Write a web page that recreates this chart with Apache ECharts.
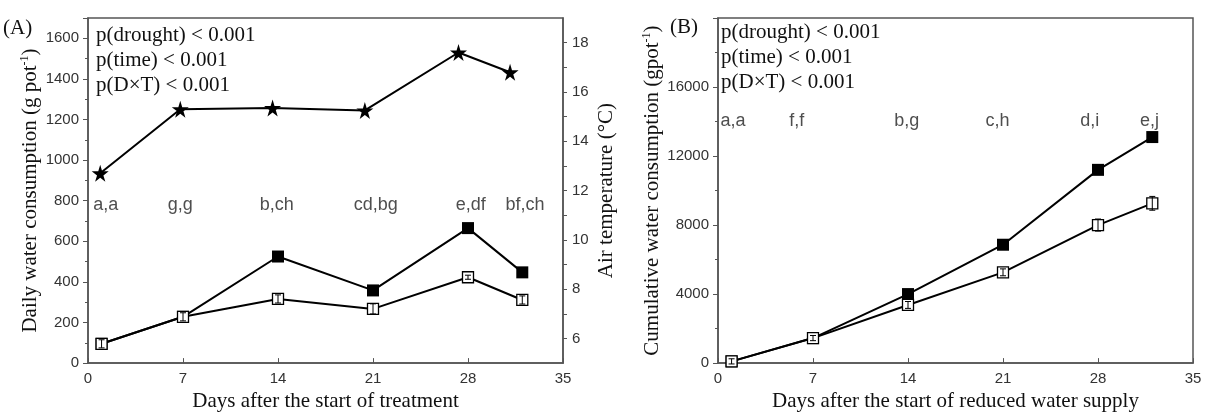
<!DOCTYPE html>
<html><head><meta charset="utf-8">
<script src="https://cdn.jsdelivr.net/npm/echarts@6/dist/echarts.min.js"></script>
<style>html,body{margin:0;padding:0;background:#fff}#c{width:1210px;height:417px}</style>
</head><body><div id="c"></div>
<script>
// ---- data ----
const daysA = [1, 7, 14, 21, 28, 32];
const dailyWet = [95, 228, 525, 358, 665, 447];          // filled squares
const dailyDry = [95, 228, 316, 267, 423, 311];          // open squares
const dailyDryErr = [20, 20, 20, 25, 10, 20];
const tempDays = [0.9, 6.8, 13.6, 20.4, 27.3, 31.1];
const airTemp = [12.7, 15.3, 15.35, 15.25, 17.6, 16.8];   // stars, right axis
const lettersA = ['a,a', 'g,g', 'b,ch', 'cd,bg', 'e,df', 'bf,ch'];
const lettersAX = [1.3, 6.8, 13.9, 21.2, 28.2, 32.2];
const lettersAY = 780;

const daysB = [1, 7, 14, 21, 28, 32];
const cumWet = [100, 1450, 4000, 6860, 11200, 13100];
const cumDry = [100, 1450, 3370, 5260, 8000, 9260];
const cumDryErr = [150, 150, 200, 200, 350, 400];
const lettersB = ['a,a', 'f,f', 'b,g', 'c,h', 'd,i', 'e,j'];
const lettersBX = [1.1, 5.8, 13.9, 20.6, 27.4, 31.8];
const lettersBY = 14000;

const pTexts = ['p(drought) < 0.001', 'p(time) < 0.001', 'p(D\u00d7T) < 0.001'];

// ---- styling ----
const SERIF = '"Liberation Serif", "DejaVu Serif", serif';
const SANS = '"Liberation Sans", Arial, sans-serif';
const AX = '#555';
const STAR = 'path://M50,0 L61,35 L98,35 L68,57 L79,91 L50,70 L21,91 L32,57 L2,35 L39,35 Z';

const nameStyle = {
  fontFamily: SERIF, fontSize: 21, color: '#111',
  rich: {
    n: {fontFamily: SERIF, fontSize: 21, color: '#111'},
    s: {fontFamily: SERIF, fontSize: 12, color: '#111', verticalAlign: 'top', padding: [0, 0, 10, 0]}
  }
};
const plain = v => String(v);

function xAx(gi, name) {
  return {
    type: 'value', gridIndex: gi, min: 0, max: 35, interval: 7,
    name: name, nameLocation: 'middle', nameGap: 26,
    nameTextStyle: {fontFamily: SERIF, fontSize: 21, color: '#111'},
    axisLine: {onZero: false, lineStyle: {color: AX, width: 1.5}},
    axisTick: {inside: true, length: 5, lineStyle: {color: AX, width: 1}},
    axisLabel: {fontFamily: SANS, fontSize: 15, color: '#333', margin: 8, formatter: plain},
    splitLine: {show: false}
  };
}
function yAx(gi, opts) {
  return Object.assign({
    type: 'value', gridIndex: gi, nameLocation: 'middle',
    nameTextStyle: nameStyle,
    axisLine: {show: true, onZero: false, lineStyle: {color: AX, width: 1.5}},
    axisTick: {show: true, length: 5, lineStyle: {color: AX, width: 1}},
    minorTick: {show: true, splitNumber: 2, length: 3, lineStyle: {color: AX, width: 1}},
    axisLabel: {fontFamily: SANS, fontSize: 15, color: '#333', margin: 9, showMaxLabel: false, formatter: plain},
    splitLine: {show: false}, minorSplitLine: {show: false}
  }, opts);
}

function errRender(params, api) {
  const x = api.value(0), lo = api.value(1), hi = api.value(2);
  const p1 = api.coord([x, lo]), p2 = api.coord([x, hi]);
  const w = 3, st = {stroke: '#000', lineWidth: 1};
  return {type: 'group', children: [
    {type: 'line', shape: {x1: p1[0], y1: p1[1], x2: p2[0], y2: p2[1]}, style: st},
    {type: 'line', shape: {x1: p1[0] - w, y1: p1[1], x2: p1[0] + w, y2: p1[1]}, style: st},
    {type: 'line', shape: {x1: p2[0] - w, y1: p2[1], x2: p2[0] + w, y2: p2[1]}, style: st}
  ]};
}

const pair = (xs, ys) => xs.map((x, i) => [x, ys[i]]);
const errData = (xs, ys, es) => xs.map((x, i) => [x, ys[i] - es[i], ys[i] + es[i]]);
const letterData = (xs, y, ls) => xs.map((x, i) => ({value: [x, y], name: ls[i]}));

function lineSeries(xi, yi, data, filled, z) {
  return {
    type: 'line', xAxisIndex: xi, yAxisIndex: yi, data: data,
    symbol: 'rect', symbolSize: filled ? 12 : 11, showSymbol: true,
    lineStyle: {color: '#000', width: 2},
    itemStyle: filled ? {color: '#000'} : {color: '#fff', borderColor: '#000', borderWidth: 1.3},
    z: z, animation: false, silent: true
  };
}
function letterSeries(xi, yi, data) {
  return {
    type: 'scatter', xAxisIndex: xi, yAxisIndex: yi, data: data, symbolSize: 1,
    itemStyle: {color: 'rgba(0,0,0,0)'},
    label: {show: true, position: 'inside', formatter: '{b}', fontFamily: SANS, fontSize: 18, color: '#222'},
    animation: false, silent: true
  };
}

const gridStyle = {show: true, borderColor: AX, borderWidth: 1.5, backgroundColor: 'transparent', containLabel: false};

const textEls = [];
function addText(x, y, t, size) {
  textEls.push({type: 'text', x: x, y: y, silent: true,
    style: {text: t, font: size + 'px ' + SERIF, fill: '#111', verticalAlign: 'middle', align: 'left'}});
}
addText(3, 28, '(A)', 21);
addText(670, 27, '(B)', 21);
[35, 60, 85].forEach((y, i) => addText(96, y, pTexts[i], 21));
[32, 57, 82].forEach((y, i) => addText(721, y, pTexts[i], 21));

const option = {
  backgroundColor: '#fff',
  animation: false,
  grid: [
    Object.assign({left: 88, top: 18, width: 475, height: 350}, gridStyle),
    Object.assign({left: 718, top: 18, width: 475, height: 349}, gridStyle)
  ],
  xAxis: [
    xAx(0, 'Days after the start of treatment'),
    xAx(1, 'Days after the start of reduced water supply')
  ],
  yAxis: [
    yAx(0, {min: 0, max: 1700, interval: 200, nameGap: 47,
      name: '{n|Daily water consumption (g pot}{s|-1}{n|)}'}),
    yAx(0, {position: 'right', min: 5, max: 19, interval: 1, nameGap: 33,
      name: 'Air temperature (\u00b0C)',
      minorTick: {show: false},
      axisTick: {show: true, length: 4, lineStyle: {color: AX, width: 1}},
      axisLabel: {fontFamily: SANS, fontSize: 15, color: '#333', margin: 9, showMaxLabel: false, showMinLabel: false,
        formatter: v => (v % 2 === 0 ? String(v) : '')}}),
    yAx(1, {min: 0, max: 20000, interval: 4000, nameGap: 55,
      name: '{n|Cumulative water consumption (gpot}{s|-1}{n|)}'})
  ],
  graphic: textEls,
  series: [
    Object.assign(lineSeries(0, 1, pair(tempDays, airTemp), true, 3), {symbol: STAR, symbolSize: 17}),
    lineSeries(0, 0, pair(daysA, dailyWet), true, 3),
    lineSeries(0, 0, pair(daysA, dailyDry), false, 4),
    {type: 'custom', xAxisIndex: 0, yAxisIndex: 0, renderItem: errRender,
      data: errData(daysA, dailyDry, dailyDryErr), z: 6, silent: true, animation: false},
    letterSeries(0, 0, letterData(lettersAX, lettersAY, lettersA)),
    lineSeries(1, 2, pair(daysB, cumWet), true, 3),
    lineSeries(1, 2, pair(daysB, cumDry), false, 4),
    {type: 'custom', xAxisIndex: 1, yAxisIndex: 2, renderItem: errRender,
      data: errData(daysB, cumDry, cumDryErr), z: 6, silent: true, animation: false},
    letterSeries(1, 2, letterData(lettersBX, lettersBY, lettersB))
  ]
};

const chart = echarts.init(document.getElementById('c'), null, {renderer: 'canvas'});
chart.setOption(option);
</script>
</body></html>
